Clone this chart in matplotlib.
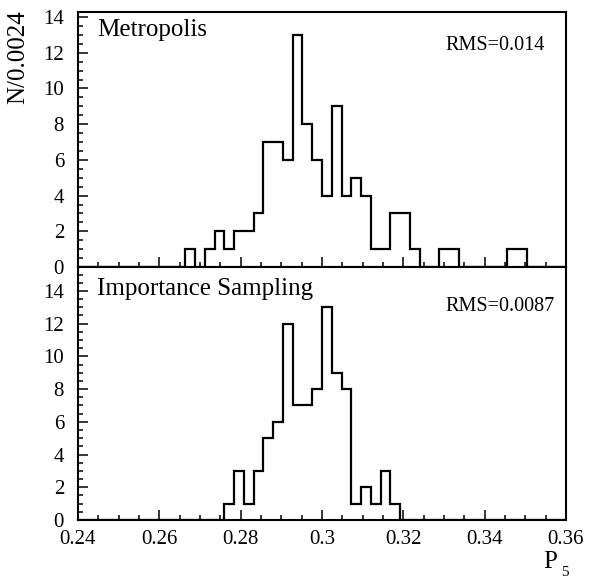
import numpy as np
import matplotlib
matplotlib.use('Agg')
from matplotlib import pyplot as plt
from matplotlib.ticker import MultipleLocator

# Histogram binning: 50 bins of width 0.0024 between 0.24 and 0.36.
x_min = 0.24
x_max = 0.36
n_bins = 50

# Counts per bin (bin 0 starts at 0.24).
metropolis_counts = [0, 0, 0, 0, 0, 0, 0, 0, 0, 0,
                     0, 1, 0, 1, 2, 1, 2, 2, 3, 7,
                     7, 6, 13, 8, 6, 4, 9, 4, 5, 4,
                     1, 1, 3, 3, 1, 0, 0, 1, 1, 0,
                     0, 0, 0, 0, 1, 1, 0, 0, 0, 0]
importance_counts = [0, 0, 0, 0, 0, 0, 0, 0, 0, 0,
                     0, 0, 0, 0, 0, 1, 3, 1, 3, 5,
                     6, 12, 7, 7, 8, 13, 9, 8, 1, 2,
                     1, 3, 1, 0, 0, 0, 0, 0, 0, 0,
                     0, 0, 0, 0, 0, 0, 0, 0, 0, 0]

panel_names = ['Metropolis', 'Importance Sampling']
rms_labels = ['RMS=0.014', 'RMS=0.0087']
x_ticks = [0.24, 0.26, 0.28, 0.3, 0.32, 0.34, 0.36]
x_tick_labels = ['0.24', '0.26', '0.28', '0.3', '0.32', '0.34', '0.36']
y_ticks = [0, 2, 4, 6, 8, 10, 12, 14]

plt.rcParams['font.family'] = ['Liberation Serif', 'DejaVu Serif']

edges = np.linspace(x_min, x_max, n_bins + 1)

fig = plt.figure(figsize=(6.16, 5.81), dpi=100)

# Two stacked pads sharing the x range, like the original ROOT canvas.
ax_top = fig.add_axes([0.1266, 0.5404, 0.7922, 0.4389])
ax_bot = fig.add_axes([0.1266, 0.1050, 0.7922, 0.4354])

panels = [(ax_top, metropolis_counts, 14.28), (ax_bot, importance_counts, 15.46)]

for i, (ax, counts, y_top) in enumerate(panels):
    ax.stairs(counts, edges, color='k', lw=1.6, baseline=0)
    ax.set_xlim(x_min, x_max)
    ax.set_ylim(0, y_top)

    ax.set_xticks(x_ticks)
    ax.xaxis.set_minor_locator(MultipleLocator(0.005))
    ax.set_yticks(y_ticks)
    ax.yaxis.set_minor_locator(MultipleLocator(0.5))

    ax.tick_params(which='both', direction='in', top=False, right=False, width=1.1)
    ax.tick_params(which='major', length=7.5)
    ax.tick_params(which='minor', length=3.8)
    ax.tick_params(axis='y', labelsize=15, pad=10)
    ax.tick_params(axis='x', labelsize=15, pad=7)

    for spine in ax.spines.values():
        spine.set_linewidth(1.5)

    ax.text(0.039, 0.93 if i == 0 else 0.915, panel_names[i], transform=ax.transAxes,
            fontsize=18, ha='left', va='center')
    ax.text(0.752, 0.87 if i == 0 else 0.843, rms_labels[i], transform=ax.transAxes,
            fontsize=14.5, ha='left', va='center')

ax_top.tick_params(axis='x', labelbottom=False)
ax_bot.set_xticklabels(x_tick_labels)

# Axis titles placed as in the ROOT figure.
fig.text(18 / 616, 1 - 10 / 581, 'N/0.0024', rotation=90, ha='center', va='top', fontsize=18)
fig.text(550 / 616, 1 - 562 / 581, 'P', ha='center', va='center', fontsize=18)
fig.text(565 / 616, 1 - 572 / 581, '5', ha='center', va='center', fontsize=11)

plt.savefig('out.png', dpi=100)
